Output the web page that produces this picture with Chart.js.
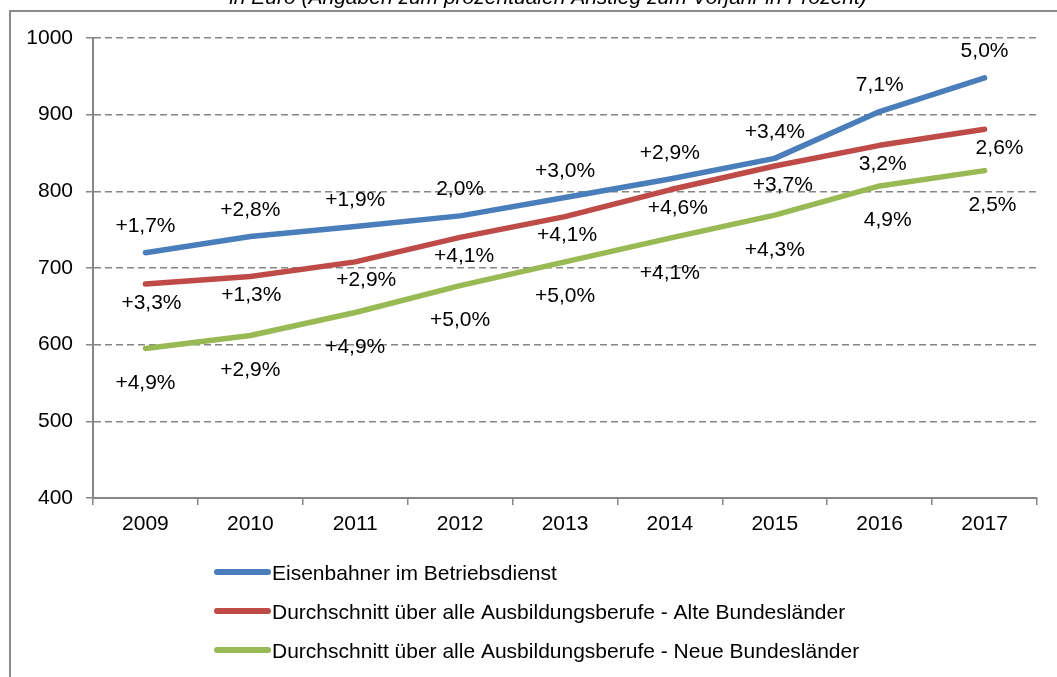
<!DOCTYPE html>
<html>
<head>
<meta charset="utf-8">
<script src="https://cdn.jsdelivr.net/npm/chart.js@4.4.1/dist/chart.umd.min.js"></script>
<style>
  body { margin: 0; background: #fff; overflow: hidden; }
  #frame { position: absolute; left: 9px; top: 10px; width: 1200px; height: 800px;
           border-left: 2px solid #8c8c8c; border-top: 2px solid #8c8c8c; }
  #chart { position: absolute; left: 0; top: 0; }
</style>
</head>
<body>
<div id="frame"></div>
<canvas id="chart" width="1057" height="677"></canvas>
<script>
const years = ["2009", "2010", "2011", "2012", "2013", "2014", "2015", "2016", "2017"];

const eisenbahner = [720, 741, 754, 768, 792, 816, 843, 904, 948];
const alteLaender = [679, 689, 708, 740, 767, 802, 833, 860, 881];
const neueLaender = [595, 612, 642, 677, 708, 739, 769, 807, 827];

const eisenbahnerPct = ["+1,7%", "+2,8%", "+1,9%", "2,0%", "+3,0%", "+2,9%", "+3,4%", "7,1%", "5,0%"];
const alteLaenderPct = ["+3,3%", "+1,3%", "+2,9%", "+4,1%", "+4,1%", "+4,6%", "+3,7%", "3,2%", "2,6%"];
const neueLaenderPct = ["+4,9%", "+2,9%", "+4,9%", "+5,0%", "+5,0%", "+4,1%", "+4,3%", "4,9%", "2,5%"];

const seriesNames = [
  "Eisenbahner im Betriebsdienst",
  "Durchschnitt über alle Ausbildungsberufe - Alte Bundesländer",
  "Durchschnitt über alle Ausbildungsberufe - Neue Bundesländer"
];

const FONT = "'Liberation Sans', Arial, sans-serif";

// label placement relative to each point (px)
const labelShift = [
  { dx: [0, 0, 0, 0, 0, 0, 0, 0, 0], dy: -28 },
  { dx: [6, 1, 11, 4, 2, 8, 8, 3, 15], dy: 17 },
  { dx: [0, 0, 0, 0, 0, 0, 0, 8, 8], dy: 33 }
];
const pctLabels = [eisenbahnerPct, alteLaenderPct, neueLaenderPct];

const pctPlugin = {
  id: "pctLabels",
  afterDatasetsDraw(chart) {
    const ctx = chart.ctx;
    ctx.save();
    ctx.font = "21px " + FONT;
    ctx.fillStyle = "#000";
    ctx.textAlign = "center";
    ctx.textBaseline = "alphabetic";
    chart.data.datasets.forEach((ds, i) => {
      const meta = chart.getDatasetMeta(i);
      meta.data.forEach((pt, j) => {
        const s = labelShift[i];
        ctx.fillText(pctLabels[i][j], pt.x + s.dx[j], pt.y + s.dy + 7.5);
      });
    });
    ctx.restore();
  }
};

const extrasPlugin = {
  id: "extras",
  afterDraw(chart) {
    const ctx = chart.ctx;
    ctx.save();
    // title (mostly cut off at the top)
    ctx.font = "italic 21px " + FONT;
    ctx.fillStyle = "#000";
    ctx.textAlign = "center";
    ctx.fillText("in Euro (Angaben zum prozentualen Anstieg zum Vorjahr in Prozent)", 548, 4);

    // legend, one entry per row
    const rows = [572, 611, 650];
    ctx.textAlign = "left";
    ctx.font = "21px " + FONT;
    chart.data.datasets.forEach((ds, i) => {
      const y = rows[i];
      ctx.strokeStyle = ds.borderColor;
      ctx.lineWidth = 6;
      ctx.lineCap = "round";
      ctx.beginPath();
      ctx.moveTo(217, y);
      ctx.lineTo(268, y);
      ctx.stroke();
      ctx.fillText(ds.label, 272, y + 7.5);
    });
    ctx.restore();
  }
};

const mkSet = (label, data, color) => ({
  label, data,
  borderColor: color,
  backgroundColor: color,
  borderWidth: 5.5,
  borderCapStyle: "round",
  borderJoinStyle: "round",
  pointRadius: 0,
  tension: 0,
  fill: false
});

new Chart(document.getElementById("chart"), {
  type: "line",
  data: {
    labels: years,
    datasets: [
      mkSet(seriesNames[0], eisenbahner, "#4A7EBB"),
      mkSet(seriesNames[1], alteLaender, "#BE4B48"),
      mkSet(seriesNames[2], neueLaender, "#98B954")
    ]
  },
  options: {
    responsive: false,
    animation: false,
    devicePixelRatio: 1,
    layout: { padding: { top: 38, right: 20, left: 0, bottom: 0 } },
    plugins: {
      legend: { display: false },
      title: { display: false },
      tooltip: { enabled: false }
    },
    scales: {
      x: {
        offset: true,
        afterFit: s => { s.height = 179; },
        grid: { offset: true, drawOnChartArea: false, color: "#868686", tickLength: 7, lineWidth: 1.5 },
        border: { color: "#868686", width: 2 },
        ticks: { color: "#000", font: { family: FONT, size: 21 }, padding: 7, maxRotation: 0 }
      },
      y: {
        min: 400,
        max: 1000,
        afterFit: s => { s.width = 93; },
        grid: { color: "#868686", lineWidth: 1.5, tickLength: 7, tickColor: "#868686" },
        border: { color: "#868686", width: 2, dash: [7, 4] },
        ticks: { stepSize: 100, color: "#000", font: { family: FONT, size: 21 }, padding: 13,
                 callback: v => String(v) }
      }
    }
  },
  plugins: [pctPlugin, extrasPlugin]
});
</script>
</body>
</html>
